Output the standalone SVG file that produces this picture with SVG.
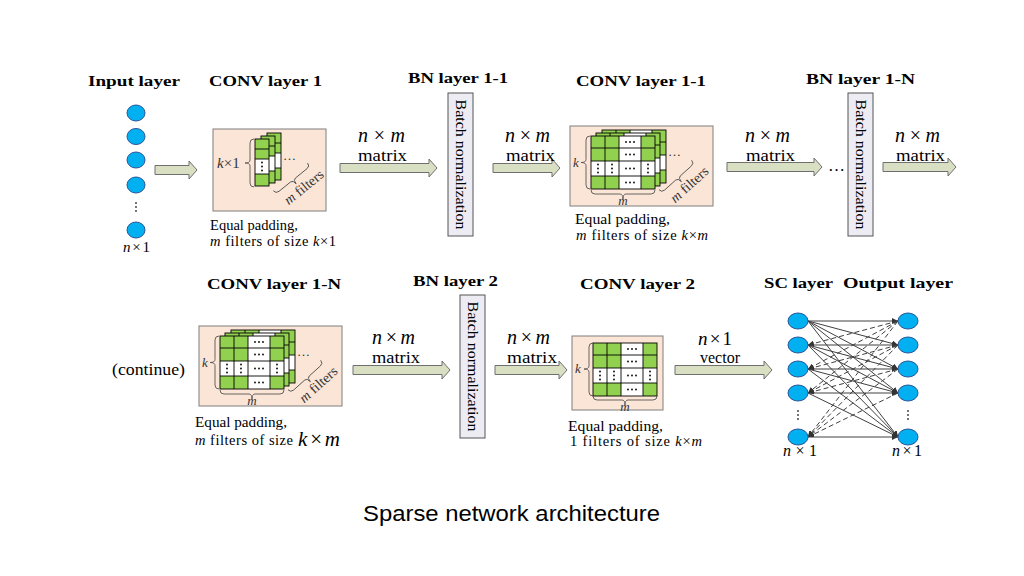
<svg xmlns="http://www.w3.org/2000/svg" xmlns:xlink="http://www.w3.org/1999/xlink" width="1024" height="576" viewBox="0 0 1024 576">
<style>
.t{font-family:"Liberation Serif","Times New Roman",serif;font-weight:bold;font-size:15px;fill:#000}
.s{font-family:"Liberation Serif","Times New Roman",serif;font-size:14.5px;fill:#000}
.m{font-family:"Liberation Serif","Times New Roman",serif;font-size:17px;fill:#000}
.nm{font-family:"Liberation Serif","Times New Roman",serif;font-size:20px;font-style:italic;fill:#000}
.i{font-style:italic}
.u{font-style:normal}
.lbl{font-family:"Liberation Serif","Times New Roman",serif;font-size:13px;fill:#333}
.box{fill:#fbe5d6;stroke:#7f7f7f;stroke-width:1}
.bn{fill:#edecf3;stroke:#555;stroke-width:1}
.arr{fill:#d9dfc3;stroke:#6f6f6f;stroke-width:1}
.nd{fill:#00b0f0;stroke:#2f5597;stroke-width:1}
.br{fill:none;stroke:#555;stroke-width:0.9}
.g{fill:#92d050}
.gl{fill:none;stroke:#000;stroke-width:0.9}
.sl{stroke:#404040;stroke-width:1;fill:none}
.dl{stroke:#404040;stroke-width:1;fill:none;stroke-dasharray:5,3}
</style>
<defs>
<marker id="ah" viewBox="0 0 10 10" refX="10" refY="5" markerWidth="6" markerHeight="6" orient="auto"><path d="M0,0 L10,5 L0,10 z" fill="#333"/></marker>
<g id="grid">
<rect x="0" y="0" width="64" height="53" fill="#fff"/>
<rect class="g" x="0" y="0" width="14" height="12"/><rect class="g" x="14" y="0" width="14" height="12"/><rect class="g" x="50" y="0" width="14" height="12"/>
<rect class="g" x="0" y="12" width="14" height="13"/><rect class="g" x="14" y="12" width="14" height="13"/><rect class="g" x="50" y="12" width="14" height="13"/>
<rect class="g" x="0" y="40" width="14" height="13"/><rect class="g" x="14" y="40" width="14" height="13"/><rect class="g" x="50" y="40" width="14" height="13"/>
<path class="gl" d="M14 0V53M28 0V53M50 0V53M0 12H64M0 25H64M0 40H64"/>
<rect class="gl" x="0" y="0" width="64" height="53"/>
<g fill="#000">
<circle cx="35" cy="6" r="0.9"/><circle cx="39" cy="6" r="0.9"/><circle cx="43" cy="6" r="0.9"/>
<circle cx="35" cy="18.5" r="0.9"/><circle cx="39" cy="18.5" r="0.9"/><circle cx="43" cy="18.5" r="0.9"/>
<circle cx="35" cy="32.5" r="0.9"/><circle cx="39" cy="32.5" r="0.9"/><circle cx="43" cy="32.5" r="0.9"/>
<circle cx="35" cy="46.5" r="0.9"/><circle cx="39" cy="46.5" r="0.9"/><circle cx="43" cy="46.5" r="0.9"/>
<circle cx="7" cy="28.5" r="0.9"/><circle cx="7" cy="32.5" r="0.9"/><circle cx="7" cy="36.5" r="0.9"/>
<circle cx="21" cy="28.5" r="0.9"/><circle cx="21" cy="32.5" r="0.9"/><circle cx="21" cy="36.5" r="0.9"/>
<circle cx="57" cy="28.5" r="0.9"/><circle cx="57" cy="32.5" r="0.9"/><circle cx="57" cy="36.5" r="0.9"/>
</g>
</g>
<g id="col">
<rect x="0" y="20" width="14" height="15" fill="#fff"/>
<rect class="g" x="0" y="0" width="14" height="10"/><rect class="g" x="0" y="10" width="14" height="10"/><rect class="g" x="0" y="35" width="14" height="12"/>
<path class="gl" d="M0 10H14M0 20H14M0 35H14"/>
<rect class="gl" x="0" y="0" width="14" height="47"/>
<g fill="#000"><circle cx="7" cy="23.5" r="0.9"/><circle cx="7" cy="27.5" r="0.9"/><circle cx="7" cy="31.5" r="0.9"/></g>
</g>
<g id="stack">
<rect class="box" x="0" y="0" width="143" height="80"/>
<use xlink:href="#grid" x="32" y="4"/>
<use xlink:href="#grid" x="26" y="7"/>
<use xlink:href="#grid" x="21" y="10"/>
<path class="br" d="M20 10 Q16 10 16 14 V33.5 Q16 36.5 11 36.5 Q16 36.5 16 39.5 V59 Q16 63 20 63"/>
<text class="lbl i" x="3" y="41">k</text>
<path class="br" d="M21 64 Q21 68 25 68 H50 Q53 68 53 73 Q53 68 56 68 H81 Q85 68 85 64"/>
<text class="lbl i" x="53" y="79" text-anchor="middle">m</text>
<text class="lbl" x="98" y="30">…</text>
<g transform="translate(108,52) rotate(-42)">
<path class="br" d="M-22 -4 Q-22 0 -18 0 H-3 Q0 0 0 5 Q0 0 3 0 H18 Q22 0 22 -4"/>
<text class="lbl" style="font-size:14px" x="4" y="17" text-anchor="middle"><tspan class="i">m</tspan> filters</text>
</g>
</g>
</defs>

<g id="connectors">
<path class="arr" d="M155 165.5 H189 V161 L197 170 L189 179 V174.5 H155 Z"/>
<path class="arr" d="M340 163.5 H429 V159 L437 168 L429 177 V172.5 H340 Z"/>
<path class="arr" d="M493 163.5 H552 V159 L560 168 L552 177 V172.5 H493 Z"/>
<path class="arr" d="M727 162.5 H814 V158 L822 167 L814 176 V171.5 H727 Z"/>
<path class="arr" d="M883 162.5 H948 V158 L956 167 L948 176 V171.5 H883 Z"/>
<path class="arr" d="M353 365.5 H442 V361 L450 370 L442 379 V374.5 H353 Z"/>
<path class="arr" d="M495 365.5 H559 V361 L567 370 L559 379 V374.5 H495 Z"/>
<path class="arr" d="M675 365.5 H764 V361 L772 370 L764 379 V374.5 H675 Z"/>
<text class="nm" x="358" y="141.5" textLength="47" lengthAdjust="spacing">n<tspan class="u">×</tspan>m</text>
<text class="m" x="358" y="161" textLength="49" lengthAdjust="spacingAndGlyphs">matrix</text>
<text class="nm" x="505" y="141.5" textLength="45" lengthAdjust="spacing">n<tspan class="u">×</tspan>m</text>
<text class="m" x="506" y="161" textLength="49" lengthAdjust="spacingAndGlyphs">matrix</text>
<text class="nm" x="745" y="141.5" textLength="45" lengthAdjust="spacing">n<tspan class="u">×</tspan>m</text>
<text class="m" x="746" y="161" textLength="49" lengthAdjust="spacingAndGlyphs">matrix</text>
<text class="m" x="828" y="171">…</text>
<text class="nm" x="895" y="141.5" textLength="45" lengthAdjust="spacing">n<tspan class="u">×</tspan>m</text>
<text class="m" x="896" y="161" textLength="49" lengthAdjust="spacingAndGlyphs">matrix</text>
<text class="nm" x="372" y="343.5" textLength="43" lengthAdjust="spacing">n<tspan class="u">×</tspan>m</text>
<text class="m" x="372" y="363" textLength="48" lengthAdjust="spacingAndGlyphs">matrix</text>
<text class="nm" x="507" y="343.5" textLength="43" lengthAdjust="spacing">n<tspan class="u">×</tspan>m</text>
<text class="m" x="507" y="363" textLength="50" lengthAdjust="spacingAndGlyphs">matrix</text>
<text class="nm" style="font-size:19px" x="698" y="345" textLength="34" lengthAdjust="spacing">n<tspan class="u">×1</tspan></text>
<text class="m" x="700" y="363" textLength="40" lengthAdjust="spacingAndGlyphs">vector</text>
<g id="sc-edges">
<line class="sl" x1="808" y1="321" x2="898" y2="321" marker-end="url(#ah)"/>
<line class="sl" x1="808" y1="321" x2="898" y2="345" marker-end="url(#ah)"/>
<line class="sl" x1="808" y1="321" x2="898" y2="369" marker-end="url(#ah)"/>
<line class="sl" x1="808" y1="321" x2="898" y2="393" marker-end="url(#ah)"/>
<line class="sl" x1="808" y1="321" x2="898" y2="437" marker-end="url(#ah)"/>
<line class="sl" x1="808" y1="345" x2="898" y2="345" marker-end="url(#ah)"/>
<line class="sl" x1="808" y1="345" x2="898" y2="369" marker-end="url(#ah)"/>
<line class="sl" x1="808" y1="345" x2="898" y2="393" marker-end="url(#ah)"/>
<line class="sl" x1="808" y1="345" x2="898" y2="437" marker-end="url(#ah)"/>
<line class="sl" x1="808" y1="369" x2="898" y2="369" marker-end="url(#ah)"/>
<line class="sl" x1="808" y1="369" x2="898" y2="393" marker-end="url(#ah)"/>
<line class="sl" x1="808" y1="369" x2="898" y2="437" marker-end="url(#ah)"/>
<line class="sl" x1="808" y1="393" x2="898" y2="393" marker-end="url(#ah)"/>
<line class="sl" x1="808" y1="393" x2="898" y2="437" marker-end="url(#ah)"/>
<line class="sl" x1="808" y1="437" x2="898" y2="437" marker-end="url(#ah)"/>
<line class="dl" x1="898" y1="321" x2="808" y2="345" marker-end="url(#ah)"/>
<line class="dl" x1="898" y1="321" x2="808" y2="369" marker-end="url(#ah)"/>
<line class="dl" x1="898" y1="321" x2="808" y2="393" marker-end="url(#ah)"/>
<line class="dl" x1="898" y1="321" x2="808" y2="437" marker-end="url(#ah)"/>
<line class="dl" x1="898" y1="345" x2="808" y2="369" marker-end="url(#ah)"/>
<line class="dl" x1="898" y1="345" x2="808" y2="393" marker-end="url(#ah)"/>
<line class="dl" x1="898" y1="345" x2="808" y2="437" marker-end="url(#ah)"/>
<line class="dl" x1="898" y1="369" x2="808" y2="393" marker-end="url(#ah)"/>
<line class="dl" x1="898" y1="369" x2="808" y2="437" marker-end="url(#ah)"/>
<line class="dl" x1="898" y1="393" x2="808" y2="437" marker-end="url(#ah)"/>
</g>
</g>

<g id="input-layer">
<text class="t" x="88" y="86" textLength="92" lengthAdjust="spacingAndGlyphs">Input layer</text>
<ellipse class="nd" cx="136" cy="113" rx="9" ry="8"/>
<ellipse class="nd" cx="136" cy="136.5" rx="9" ry="8"/>
<ellipse class="nd" cx="136" cy="160" rx="9" ry="8"/>
<ellipse class="nd" cx="136" cy="185" rx="9" ry="8"/>
<g fill="#333"><circle cx="136" cy="203" r="0.9"/><circle cx="136" cy="207" r="0.9"/><circle cx="136" cy="211" r="0.9"/></g>
<ellipse class="nd" cx="136" cy="230" rx="9" ry="8"/>
<text class="nm" style="font-size:15px" x="123" y="252" textLength="27" lengthAdjust="spacing">n<tspan class="u">×1</tspan></text>
</g>

<g id="conv1">
<text class="t" x="209" y="86" textLength="113" lengthAdjust="spacingAndGlyphs">CONV layer 1</text>
<rect class="box" x="213" y="129" width="113" height="82"/>
<use xlink:href="#col" x="267" y="133"/>
<use xlink:href="#col" x="261" y="136"/>
<use xlink:href="#col" x="255" y="139"/>
<path class="br" d="M254 139 Q250 139 250 143 V160 Q250 163 245 163 Q250 163 250 166 V183 Q250 187 254 187"/>
<text class="lbl" style="font-size:15px" x="217" y="168"><tspan class="i">k</tspan>×1</text>
<text class="lbl" x="283" y="160">…</text>
<g transform="translate(293,180) rotate(-39)">
<path class="br" d="M-22 -4 Q-22 0 -18 0 H-3 Q0 0 0 5 Q0 0 3 0 H18 Q22 0 22 -4"/>
<text class="lbl" style="font-size:14px" x="4" y="17" text-anchor="middle"><tspan class="i">m</tspan> filters</text>
</g>
<text class="s" x="210" y="230" textLength="88" lengthAdjust="spacingAndGlyphs">Equal padding,</text>
<text class="s" x="210" y="246" textLength="126" lengthAdjust="spacing"><tspan class="i">m</tspan> filters of size <tspan class="i">k</tspan>×1</text>
</g>

<g id="bn11">
<text class="t" x="408" y="83" textLength="100" lengthAdjust="spacingAndGlyphs">BN layer 1-1</text>
<rect class="bn" x="448" y="93" width="25" height="143"/>
<text class="s" style="font-size:15px" transform="translate(460.5,164.5) rotate(90)" x="0" y="5" text-anchor="middle" textLength="130" lengthAdjust="spacingAndGlyphs">Batch normalization</text>
</g>

<g id="conv11">
<text class="t" x="576" y="86" textLength="130" lengthAdjust="spacingAndGlyphs">CONV layer 1-1</text>
<use xlink:href="#stack" transform="translate(570,126)"/>
<text class="s" x="575" y="224" textLength="95" lengthAdjust="spacingAndGlyphs">Equal padding,</text>
<text class="s" x="576" y="240" textLength="132" lengthAdjust="spacing"><tspan class="i">m</tspan> filters of size <tspan class="i">k</tspan>×<tspan class="i">m</tspan></text>
</g>

<g id="bn1n">
<text class="t" x="806" y="84" textLength="109" lengthAdjust="spacingAndGlyphs">BN layer 1-N</text>
<rect class="bn" x="848" y="93" width="25" height="143"/>
<text class="s" style="font-size:15px" transform="translate(860.5,164.5) rotate(90)" x="0" y="5" text-anchor="middle" textLength="130" lengthAdjust="spacingAndGlyphs">Batch normalization</text>
</g>

<g id="continue">
<text class="m" x="112" y="375" textLength="73" lengthAdjust="spacingAndGlyphs">(continue)</text>
</g>

<g id="conv1n">
<text class="t" x="207" y="289" textLength="134" lengthAdjust="spacingAndGlyphs">CONV layer 1-N</text>
<use xlink:href="#stack" transform="translate(199,326)"/>
<text class="s" x="195" y="427" textLength="92" lengthAdjust="spacingAndGlyphs">Equal padding,</text>
<text class="s" x="195" y="445" textLength="98" lengthAdjust="spacing"><tspan class="i">m</tspan> filters of size</text>
<text class="nm" style="font-size:21px" x="298" y="446" textLength="42" lengthAdjust="spacing">k<tspan class="u">×</tspan>m</text>
</g>

<g id="bn2">
<text class="t" x="413" y="286" textLength="85" lengthAdjust="spacingAndGlyphs">BN layer 2</text>
<rect class="bn" x="460" y="295" width="25" height="143"/>
<text class="s" style="font-size:15px" transform="translate(472.5,366.5) rotate(90)" x="0" y="5" text-anchor="middle" textLength="130" lengthAdjust="spacingAndGlyphs">Batch normalization</text>
</g>

<g id="conv2">
<text class="t" x="580" y="289" textLength="115" lengthAdjust="spacingAndGlyphs">CONV layer 2</text>
<rect class="box" x="572" y="336" width="91" height="74"/>
<use xlink:href="#grid" x="593" y="343"/>
<path class="br" d="M593 343 Q589 343 589 347 V366 Q589 369 584 369 Q589 369 589 372 V392 Q589 396 593 396"/>
<text class="lbl i" x="575" y="373">k</text>
<path class="br" d="M593 396 Q593 400 597 400 H622 Q625 400 625 405 Q625 400 628 400 H653 Q657 400 657 396"/>
<text class="lbl i" x="625" y="411" text-anchor="middle">m</text>
<text class="s" x="568" y="431" textLength="95" lengthAdjust="spacingAndGlyphs">Equal padding,</text>
<text class="s" x="570" y="446" textLength="132" lengthAdjust="spacing">1 filters of size <tspan class="i">k</tspan>×<tspan class="i">m</tspan></text>
</g>

<g id="sc-layer">
<text class="t" x="764" y="288" textLength="69" lengthAdjust="spacingAndGlyphs">SC layer</text>
<ellipse class="nd" cx="798" cy="321" rx="10" ry="8"/>
<ellipse class="nd" cx="798" cy="345" rx="10" ry="8"/>
<ellipse class="nd" cx="798" cy="369" rx="10" ry="8"/>
<ellipse class="nd" cx="798" cy="393" rx="10" ry="8"/>
<g fill="#333"><circle cx="798" cy="411" r="0.9"/><circle cx="798" cy="415" r="0.9"/><circle cx="798" cy="419" r="0.9"/></g>
<ellipse class="nd" cx="798" cy="437" rx="10" ry="8"/>
<text class="nm" style="font-size:16px" x="783" y="456" textLength="34" lengthAdjust="spacing">n<tspan class="u">×1</tspan></text>
</g>

<g id="output-layer">
<text class="t" x="843" y="288" textLength="110" lengthAdjust="spacingAndGlyphs">Output layer</text>
<ellipse class="nd" cx="908" cy="321" rx="10" ry="8"/>
<ellipse class="nd" cx="908" cy="345" rx="10" ry="8"/>
<ellipse class="nd" cx="908" cy="369" rx="10" ry="8"/>
<ellipse class="nd" cx="908" cy="393" rx="10" ry="8"/>
<g fill="#333"><circle cx="908" cy="411" r="0.9"/><circle cx="908" cy="415" r="0.9"/><circle cx="908" cy="419" r="0.9"/></g>
<ellipse class="nd" cx="908" cy="437" rx="10" ry="8"/>
<text class="nm" style="font-size:16px" x="892" y="456" textLength="30" lengthAdjust="spacing">n<tspan class="u">×1</tspan></text>
</g>

<g id="caption">
<text x="511.5" y="521" text-anchor="middle" font-family="'Liberation Sans',Arial,sans-serif" font-size="22" fill="#000" textLength="297" lengthAdjust="spacingAndGlyphs">Sparse network architecture</text>
</g>
</svg>
